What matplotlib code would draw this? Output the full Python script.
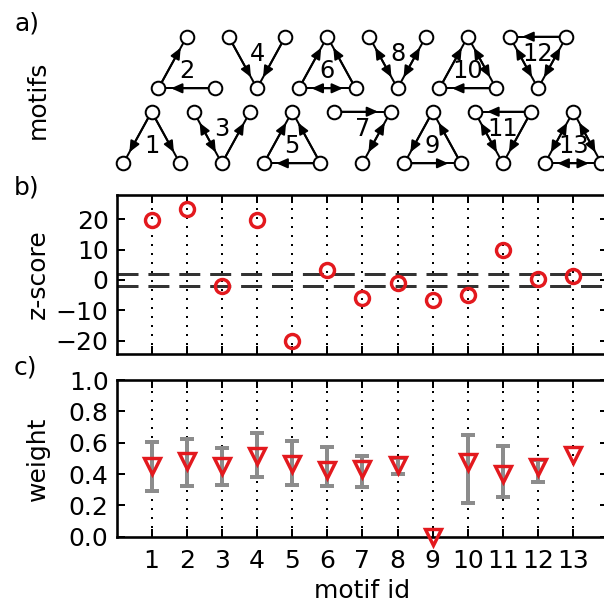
import matplotlib
matplotlib.use("Agg")
import matplotlib.pyplot as plt
import numpy as np
from matplotlib.patches import FancyArrowPatch

# ---- data ----
MOTIF_IDS = np.arange(1, 14)

# orientation of each drawn triad: "up" = apex on top, "down" = V shape
MOTIF_SHAPE = ["up", "up", "down", "down", "up", "up", "down",
               "down", "up", "up", "down", "down", "up"]
# edges as (source, target, mutual); nodes: up -> 0 top, 1 left, 2 right
#                                          down -> 0 left, 1 right, 2 bottom
MOTIF_EDGES = [
    [(0, 1, False), (0, 2, False)],
    [(1, 0, False), (2, 1, False)],
    [(0, 2, True), (2, 1, False)],
    [(0, 2, False), (1, 2, False)],
    [(1, 0, False), (2, 0, False), (2, 1, False)],
    [(1, 0, False), (2, 0, False), (1, 2, True)],
    [(0, 1, False), (1, 2, True)],
    [(0, 2, True), (1, 2, True)],
    [(0, 1, False), (1, 2, False), (2, 0, False)],
    [(1, 0, False), (0, 2, True), (2, 1, False)],
    [(1, 0, False), (0, 2, True), (1, 2, False)],
    [(1, 0, False), (0, 2, True), (1, 2, True)],
    [(0, 1, True), (1, 2, True), (0, 2, True)],
]

Z_SCORES = [19.8, 23.4, -2.1, 19.8, -20.0, 3.2, -5.8, -0.9, -6.5, -5.1, 9.9, 0.2, 1.3]
Z_THRESHOLD = 2.0

WEIGHT = [0.45, 0.48, 0.452, 0.516, 0.461, 0.424, 0.435, 0.456, 0.0, 0.478, 0.399, 0.447, 0.521]
WEIGHT_LOW = [0.292, 0.322, 0.328, 0.379, 0.332, 0.325, 0.315, 0.398, np.nan, 0.215, 0.251, 0.351, np.nan]
WEIGHT_HIGH = [0.606, 0.622, 0.566, 0.664, 0.611, 0.574, 0.515, 0.502, np.nan, 0.649, 0.579, 0.489, np.nan]

RED = "#e3191e"

plt.rcParams.update({
    "font.size": 12.5,
    "axes.linewidth": 1.3,
    "xtick.direction": "in",
    "ytick.direction": "in",
    "xtick.top": True,
    "ytick.right": True,
    "xtick.major.size": 4,
    "ytick.major.size": 4,
    "xtick.major.width": 1,
    "ytick.major.width": 1,
    "xtick.major.pad": 6,
    "ytick.major.pad": 4,
})

W, H, DPI = 604, 606, 144
fig = plt.figure(figsize=(W / DPI, H / DPI), dpi=DPI)


def px_axes(left, right, top, bottom):
    return fig.add_axes([left / W, 1 - bottom / H, (right - left) / W, (bottom - top) / H])


X_LEFT, X_RIGHT = 116.5, 608.3
ax_m = px_axes(X_LEFT, X_RIGHT, 20, 180)
ax_z = px_axes(X_LEFT, X_RIGHT, 195.5, 353.5)
ax_w = px_axes(X_LEFT, X_RIGHT, 380, 536.7)

# ---- a) motifs ----
ax_m.set_xlim(0, 14)
ax_m.set_ylim(180, 20)  # pixel-like units, top of figure at 0
ax_m.set_xticks([])
ax_m.set_yticks([])
for s in ax_m.spines.values():
    s.set_visible(False)
ax_m.patch.set_visible(False)

HALF_W = 0.806          # half width of a triad in motif units
ROW_Y = {0: (36.7, 88.3), 1: (111.7, 163.3)}  # even ids on top row

for mid, shape, edges in zip(MOTIF_IDS, MOTIF_SHAPE, MOTIF_EDGES):
    y_hi, y_lo = ROW_Y[0] if mid % 2 == 0 else ROW_Y[1]
    if shape == "up":
        nodes = [(mid, y_hi), (mid - HALF_W, y_lo), (mid + HALF_W, y_lo)]
    else:
        nodes = [(mid - HALF_W, y_hi), (mid + HALF_W, y_hi), (mid, y_lo)]
    for a, b, mutual in edges:
        (xa, ya), (xb, yb) = nodes[a], nodes[b]
        ax_m.plot([xa, xb], [ya, yb], color="black", lw=1, zorder=1, clip_on=False)
        style = "<|-|>" if mutual else "-|>"
        arr = FancyArrowPatch((xa, ya), (xb, yb),
                              arrowstyle=style + ",head_length=0.45,head_width=0.2",
                              mutation_scale=10, color="black", lw=1,
                              shrinkA=6.3 if mutual else 0, shrinkB=6.3,
                              zorder=2, clip_on=False)
        ax_m.add_patch(arr)
    xs, ys = zip(*nodes)
    ax_m.plot(xs, ys, "o", ms=6.8, mfc="white", mec="black", mew=1,
              zorder=3, clip_on=False)
    ax_m.text(np.mean(xs), np.mean(ys), str(mid), ha="center", va="center",
              fontsize=12, zorder=4)

ax_m.set_ylabel("motifs")
ax_m.yaxis.set_label_coords(-0.135, 0.5)

# ---- b) z-score ----
ax_z.axhline(Z_THRESHOLD, color="0.2", lw=1.5, ls=(0, (7, 3.3)), zorder=1)
ax_z.axhline(-Z_THRESHOLD, color="0.2", lw=1.5, ls=(0, (7, 3.3)), zorder=1)
ax_z.plot(MOTIF_IDS, Z_SCORES, "o", ms=7, mfc="none", mec=RED, mew=1.7, zorder=3)
ax_z.set_xlim(0, 14)
ax_z.set_ylim(-24.2, 27.8)
ax_z.set_xticks(MOTIF_IDS)
ax_z.set_xticklabels([])
ax_z.set_yticks([-20, -10, 0, 10, 20])
ax_z.grid(True, axis="x", color="black", ls=(0, (1, 3.5)), lw=1)
ax_z.set_ylabel("z-score")
ax_z.yaxis.set_label_coords(-0.135, 0.5)

# ---- c) weight ----
w = np.array(WEIGHT)
lo = np.array(WEIGHT_LOW)
hi = np.array(WEIGHT_HIGH)
has_err = ~np.isnan(lo)
ax_w.errorbar(MOTIF_IDS[has_err], w[has_err],
              yerr=[w[has_err] - lo[has_err], hi[has_err] - w[has_err]],
              fmt="none", ecolor="0.55", elinewidth=2, capsize=3.5, capthick=2, zorder=2)
ax_w.plot(MOTIF_IDS, WEIGHT, "v", ms=8, mfc="none", mec=RED, mew=1.7,
          zorder=3, clip_on=False)
ax_w.set_xlim(0, 14)
ax_w.set_ylim(0, 1)
ax_w.set_xticks(MOTIF_IDS)
ax_w.set_yticks(np.arange(0, 1.01, 0.2))
ax_w.set_yticklabels([f"{v:.1f}" for v in np.arange(0, 1.01, 0.2)])
ax_w.grid(True, axis="x", color="black", ls=(0, (1, 3.5)), lw=1)
ax_w.set_xlabel("motif id", labelpad=3)
ax_w.set_ylabel("weight")
ax_w.yaxis.set_label_coords(-0.135, 0.5)

# panel letters
fig.text(14 / W, 1 - 23 / H, "a)", ha="left", va="center")
fig.text(14 / W, 1 - 188 / H, "b)", ha="left", va="center")
fig.text(14 / W, 1 - 367 / H, "c)", ha="left", va="center")

fig.savefig("out.png", dpi=DPI)
